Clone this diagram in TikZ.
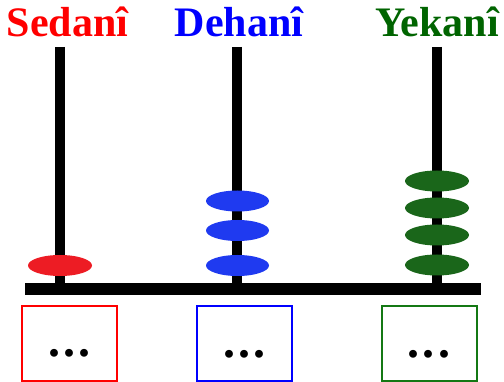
\documentclass[tikz,border=0pt]{standalone}
\usepackage{fontspec}
\setmainfont{Liberation Serif}
\definecolor{titlered}{RGB}{255,0,0}
\definecolor{beadred}{RGB}{237,28,36}
\definecolor{titleblue}{RGB}{0,0,255}
\definecolor{beadblue}{RGB}{31,58,240}
\definecolor{titlegreen}{RGB}{0,100,0}
\definecolor{beadgreen}{RGB}{26,102,26}
\definecolor{boxgreen}{RGB}{20,120,20}
\newcommand{\wdots}{.\hspace{3.5pt}.\hspace{3.5pt}.}
\tikzset{
  title/.style={anchor=base,font=\fontsize{42}{42}\selectfont\bfseries,inner sep=0pt},
  rod/.style={line width=10pt},
  bead/.style={fill=#1},
  digitbox/.style={draw=#1,line width=2pt,minimum width=95pt,minimum height=75pt,inner sep=0pt},
  dots/.style={anchor=base,font=\fontsize{48}{48}\selectfont\bfseries,inner sep=0pt}
}
\begin{document}
\begin{tikzpicture}[x=1pt,y=-1pt]
  \useasboundingbox (0,0) rectangle (504,382);
  % titles
  \node[title,text=titlered] (sedani) at (67.5,37) {Sedanî};
  \node[title,text=titleblue] (dehani) at (239,37) {Dehanî};
  \node[title,text=titlegreen] (yekani) at (437,37) {Yekanî};
  % rods and base
  \coordinate (stop) at (60,47);    \coordinate (sbot) at (60,295);
  \coordinate (dtop) at (237,47);   \coordinate (dbot) at (237,295);
  \coordinate (ytop) at (437,47);   \coordinate (ybot) at (437,295);
  \coordinate (baseleft) at (25,289); \coordinate (baseright) at (481,289);
  \draw[rod] (stop) -- (sbot);
  \draw[rod] (dtop) -- (dbot);
  \draw[rod] (ytop) -- (ybot);
  \draw[line width=12pt] (baseleft) -- (baseright);
  % beads
  \fill[bead=beadred] (60,265.5) ellipse [x radius=32, y radius=10.5];
  \foreach \y in {201,230.5,265.5}
    \fill[bead=beadblue] (237.5,\y) ellipse [x radius=31.5, y radius=10.5];
  \foreach \y in {181,208,235,265}
    \fill[bead=beadgreen] (437,\y) ellipse [x radius=32, y radius=10.5];
  % boxes
  \node[digitbox=titlered] (sbox) at (69.5,343.5) {};
  \node[digitbox=titleblue] (dbox) at (244.5,344) {};
  \node[digitbox=boxgreen] (ybox) at (429,344) {};
  \node[dots] (sdots) at (69.5,357) {\wdots};
  \node[dots] (ddots) at (244.5,358) {\wdots};
  \node[dots] (ydots) at (429,358) {\wdots};
\end{tikzpicture}
\end{document}
